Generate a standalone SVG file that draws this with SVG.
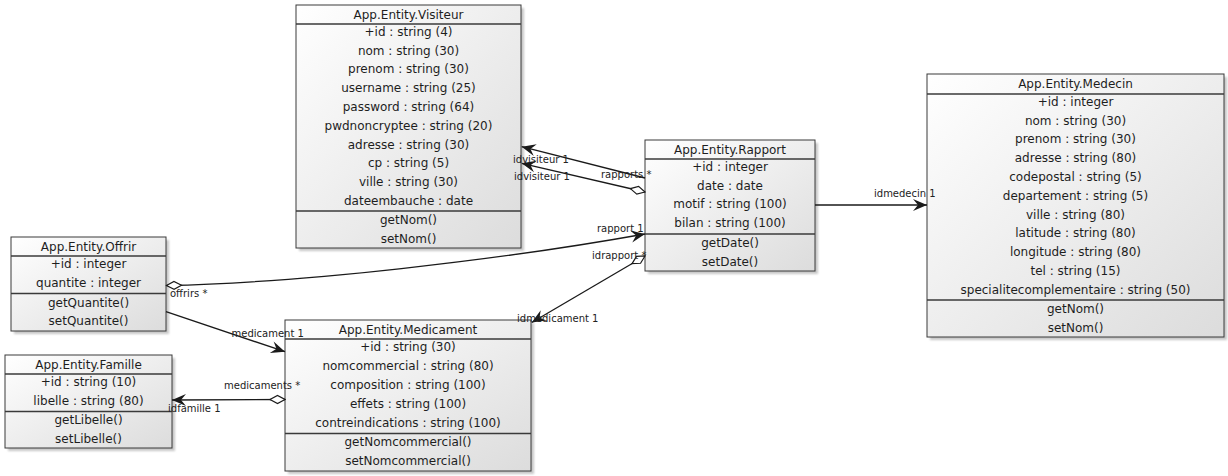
<svg xmlns="http://www.w3.org/2000/svg" width="1228" height="476" viewBox="0 0 1228 476">
<style>
.box{fill:url(#g);stroke:#3a3a3a;stroke-width:1}
.sh{fill:#9a9a9a;opacity:0.55;filter:url(#blur)}
.sep{stroke:#3a3a3a;stroke-width:1.3}
.t{font-family:"DejaVu Sans",sans-serif;font-size:12px;fill:#1e1e1e;text-anchor:middle}
.l{font-family:"DejaVu Sans",sans-serif;font-size:10px;fill:#222}
.c{fill:none;stroke:#1a1a1a;stroke-width:1.3}
.a{marker-end:url(#arr)}
.d{marker-start:url(#dia)}
</style>
<defs>
<linearGradient id="g" x1="0" y1="0" x2="1" y2="1">
<stop offset="0" stop-color="#ffffff"/>
<stop offset="1" stop-color="#dcdcdc"/>
</linearGradient>
<filter id="blur" x="-10%" y="-10%" width="120%" height="120%"><feGaussianBlur stdDeviation="1.2"/></filter>
<marker id="arr" viewBox="-15 -7 16 14" refX="0" refY="0" markerWidth="16" markerHeight="14" markerUnits="userSpaceOnUse" orient="auto">
<path d="M0,0 L-14,-6 L-9,0 L-14,6 Z" fill="#1a1a1a"/>
</marker>
<marker id="dia" viewBox="-1 -6 18 12" refX="0" refY="0" markerWidth="18" markerHeight="12" markerUnits="userSpaceOnUse" orient="auto">
<path d="M0,0 L7.5,-4 L15,0 L7.5,4 Z" fill="#ffffff" stroke="#1a1a1a" stroke-width="1.2"/>
</marker>
</defs>
<rect width="1228" height="476" fill="#ffffff"/>

<g id="visiteur">
<rect class="sh" x="299" y="8" width="225" height="243"/>
<rect class="box" x="296" y="5" width="225" height="243"/>
<line class="sep" x1="296" y1="24" x2="521" y2="24"/>
<line class="sep" x1="296" y1="211" x2="521" y2="211"/>
<text class="t" x="408.5" y="18.7">App.Entity.Visiteur</text>
<text class="t" x="408.5" y="35.7">+id : string (4)</text>
<text class="t" x="408.5" y="54.5">nom : string (30)</text>
<text class="t" x="408.5" y="73.3">prenom : string (30)</text>
<text class="t" x="408.5" y="92.1">username : string (25)</text>
<text class="t" x="408.5" y="110.9">password : string (64)</text>
<text class="t" x="408.5" y="129.7">pwdnoncryptee : string (20)</text>
<text class="t" x="408.5" y="148.5">adresse : string (30)</text>
<text class="t" x="408.5" y="167.3">cp : string (5)</text>
<text class="t" x="408.5" y="186.1">ville : string (30)</text>
<text class="t" x="408.5" y="204.9">dateembauche : date</text>
<text class="t" x="408.5" y="224">getNom()</text>
<text class="t" x="408.5" y="242.8">setNom()</text>
</g>

<g id="rapport">
<rect class="sh" x="648" y="143" width="170" height="131"/>
<rect class="box" x="645" y="140" width="170" height="131"/>
<line class="sep" x1="645" y1="159" x2="815" y2="159"/>
<line class="sep" x1="645" y1="234" x2="815" y2="234"/>
<text class="t" x="730" y="153.7">App.Entity.Rapport</text>
<text class="t" x="730" y="170.7">+id : integer</text>
<text class="t" x="730" y="189.5">date : date</text>
<text class="t" x="730" y="208.3">motif : string (100)</text>
<text class="t" x="730" y="227.1">bilan : string (100)</text>
<text class="t" x="730" y="246.7">getDate()</text>
<text class="t" x="730" y="265.5">setDate()</text>
</g>

<g id="medecin">
<rect class="sh" x="930" y="77" width="297" height="263"/>
<rect class="box" x="927" y="74" width="297" height="263"/>
<line class="sep" x1="927" y1="94" x2="1224" y2="94"/>
<line class="sep" x1="927" y1="300" x2="1224" y2="300"/>
<text class="t" x="1075.5" y="88">App.Entity.Medecin</text>
<text class="t" x="1075.5" y="105.7">+id : integer</text>
<text class="t" x="1075.5" y="124.5">nom : string (30)</text>
<text class="t" x="1075.5" y="143.3">prenom : string (30)</text>
<text class="t" x="1075.5" y="162.1">adresse : string (80)</text>
<text class="t" x="1075.5" y="180.9">codepostal : string (5)</text>
<text class="t" x="1075.5" y="199.7">departement : string (5)</text>
<text class="t" x="1075.5" y="218.5">ville : string (80)</text>
<text class="t" x="1075.5" y="237.3">latitude : string (80)</text>
<text class="t" x="1075.5" y="256.1">longitude : string (80)</text>
<text class="t" x="1075.5" y="274.9">tel : string (15)</text>
<text class="t" x="1075.5" y="293.7">specialitecomplementaire : string (50)</text>
<text class="t" x="1075.5" y="313">getNom()</text>
<text class="t" x="1075.5" y="331.8">setNom()</text>
</g>

<g id="offrir">
<rect class="sh" x="14" y="240" width="155" height="94"/>
<rect class="box" x="11" y="237" width="155" height="94"/>
<line class="sep" x1="11" y1="256" x2="166" y2="256"/>
<line class="sep" x1="11" y1="293.5" x2="166" y2="293.5"/>
<text class="t" x="88.5" y="250.7">App.Entity.Offrir</text>
<text class="t" x="88.5" y="268">+id : integer</text>
<text class="t" x="88.5" y="286.8">quantite : integer</text>
<text class="t" x="88.5" y="306.5">getQuantite()</text>
<text class="t" x="88.5" y="325.3">setQuantite()</text>
</g>

<g id="famille">
<rect class="sh" x="8" y="358" width="167" height="93"/>
<rect class="box" x="5" y="355" width="167" height="93"/>
<line class="sep" x1="5" y1="374" x2="172" y2="374"/>
<line class="sep" x1="5" y1="411.5" x2="172" y2="411.5"/>
<text class="t" x="88.5" y="368.7">App.Entity.Famille</text>
<text class="t" x="88.5" y="386">+id : string (10)</text>
<text class="t" x="88.5" y="404.8">libelle : string (80)</text>
<text class="t" x="88.5" y="424.3">getLibelle()</text>
<text class="t" x="88.5" y="443.1">setLibelle()</text>
</g>

<g id="medicament">
<rect class="sh" x="288" y="323" width="246" height="151"/>
<rect class="box" x="285" y="320" width="246" height="151"/>
<line class="sep" x1="285" y1="339" x2="531" y2="339"/>
<line class="sep" x1="285" y1="433.5" x2="531" y2="433.5"/>
<text class="t" x="408" y="333.7">App.Entity.Medicament</text>
<text class="t" x="408" y="351.3">+id : string (30)</text>
<text class="t" x="408" y="370.1">nomcommercial : string (80)</text>
<text class="t" x="408" y="388.9">composition : string (100)</text>
<text class="t" x="408" y="407.7">effets : string (100)</text>
<text class="t" x="408" y="426.5">contreindications : string (100)</text>
<text class="t" x="408" y="446.3">getNomcommercial()</text>
<text class="t" x="408" y="465.1">setNomcommercial()</text>
</g>

<g id="connectors">
<path class="c a" d="M645,178 L521.7,146.7"/>
<path class="c d a" d="M645,192 L521.7,163.3"/>
<path class="c a" d="M815,205 L927,205"/>
<path class="c d a" d="M166.5,285.5 C300,283 500,260 645,234"/>
<path class="c d a" d="M645,256 L531.7,322.5"/>
<path class="c a" d="M166,311.7 L285,351.7"/>
<path class="c d a" d="M285,399.5 L172,400"/>
<text class="l" x="513" y="163">idvisiteur 1</text>
<text class="l" x="514" y="180">idvisiteur 1</text>
<text class="l" x="601" y="178">rapports *</text>
<text class="l" x="874" y="197">idmedecin 1</text>
<text class="l" x="597" y="231.5">rapport 1</text>
<text class="l" x="170" y="297">offrirs *</text>
<text class="l" x="592" y="258.5">idrapport *</text>
<text class="l" x="517" y="322">idmedicament 1</text>
<text class="l" x="231.5" y="337">medicament 1</text>
<text class="l" x="224" y="388.5">medicaments *</text>
<text class="l" x="168" y="412">idfamille 1</text>
</g>
</svg>
